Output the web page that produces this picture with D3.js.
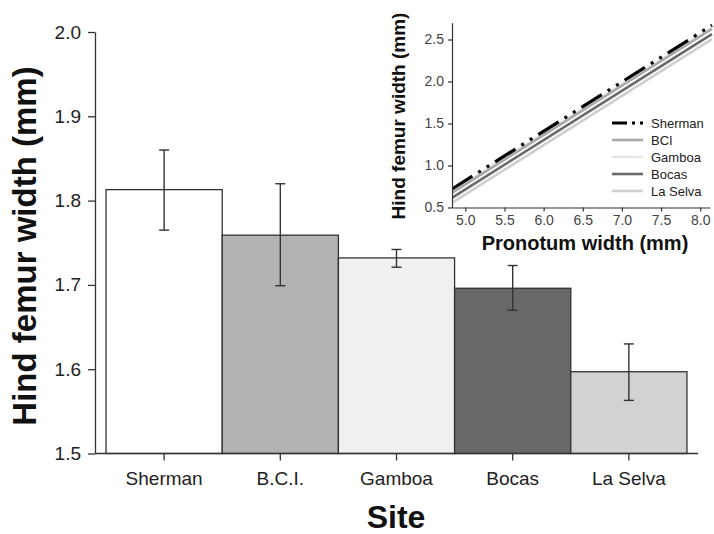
<!DOCTYPE html>
<html>
<head>
<meta charset="utf-8">
<script src="https://cdn.jsdelivr.net/npm/d3@7"></script>
<style>
  body { margin: 0; background: #fff; }
  svg { display: block; font-family: "Liberation Sans", Arial, sans-serif; }
</style>
</head>
<body>
<div id="chart"></div>
<script>
// Main bar chart data
const sites = ["Sherman", "B.C.I.", "Gamboa", "Bocas", "La Selva"];
const means = [1.813, 1.759, 1.732, 1.696, 1.597];
const errLow = [1.765, 1.699, 1.721, 1.670, 1.563];
const errHigh = [1.860, 1.820, 1.742, 1.723, 1.630];
const barFills = ["#ffffff", "#b3b3b3", "#f0f0f0", "#686868", "#d2d2d2"];
const yTicks = [1.5, 1.6, 1.7, 1.8, 1.9, 2.0];

// Inset regression lines (value at x = 4.83 and at x = 8.15)
const lineSites = ["Sherman", "BCI", "Gamboa", "Bocas", "La Selva"];
const lineX = [4.83, 8.15];
const lineStart = [0.72, 0.675, 0.695, 0.615, 0.555];
const lineEnd = [2.67, 2.625, 2.645, 2.565, 2.505];
const lineColors = ["#000000", "#a8a8a8", "#e6e6e6", "#6a6a6a", "#cfcfcf"];
const insetXTicks = [5.0, 5.5, 6.0, 6.5, 7.0, 7.5, 8.0];
const insetYTicks = [0.5, 1.0, 1.5, 2.0, 2.5];

const W = 714, H = 534;
const svg = d3.select("#chart").append("svg")
    .attr("width", W)
    .attr("height", H);

svg.append("rect").attr("width", W).attr("height", H).attr("fill", "#fff");

// ---- main chart ----
const x = d3.scaleBand()
    .domain(sites)
    .range([95, 698])
    .paddingInner(0)
    .paddingOuter(0.095);

const y = d3.scaleLinear()
    .domain([1.5, 2.0])
    .range([453.5, 32]);

const bars = svg.append("g");
bars.selectAll("rect")
    .data(sites)
    .enter().append("rect")
    .attr("x", d => x(d))
    .attr("y", (d, i) => y(means[i]))
    .attr("width", x.bandwidth())
    .attr("height", (d, i) => y(1.5) - y(means[i]))
    .attr("fill", (d, i) => barFills[i])
    .attr("stroke", "#333")
    .attr("stroke-width", 1.3);

const err = svg.append("g")
    .attr("stroke", "#333")
    .attr("stroke-width", 1.4);
sites.forEach((s, i) => {
    const cx = x(s) + x.bandwidth() / 2;
    err.append("line").attr("x1", cx).attr("x2", cx).attr("y1", y(errLow[i])).attr("y2", y(errHigh[i]));
    err.append("line").attr("x1", cx - 5).attr("x2", cx + 5).attr("y1", y(errLow[i])).attr("y2", y(errLow[i]));
    err.append("line").attr("x1", cx - 5).attr("x2", cx + 5).attr("y1", y(errHigh[i])).attr("y2", y(errHigh[i]));
});

const yAxis = svg.append("g")
    .attr("transform", "translate(95,0)")
    .call(d3.axisLeft(y).tickValues(yTicks).tickFormat(d3.format(".1f")).tickSize(7).tickPadding(7).tickSizeOuter(0));

const xAxis = svg.append("g")
    .attr("transform", "translate(0,453.5)")
    .call(d3.axisBottom(x).tickSize(7).tickPadding(11).tickSizeOuter(0));

[yAxis, xAxis].forEach(a => {
    a.select(".domain").attr("stroke", "#333").attr("stroke-width", 1.3);
    a.selectAll(".tick line").attr("stroke", "#333").attr("stroke-width", 1.3);
    a.selectAll("text").attr("font-size", 19).attr("fill", "#222")
        .attr("font-family", "Liberation Sans, Arial, sans-serif");
});
// x axis line runs full width of plot
xAxis.select(".domain").attr("d", "M95,0H698");

svg.append("text")
    .attr("transform", "translate(36,246) rotate(-90)")
    .attr("text-anchor", "middle")
    .attr("font-size", 33)
    .attr("font-weight", "bold")
    .attr("fill", "#111")
    .text("Hind femur width (mm)");

svg.append("text")
    .attr("x", 396)
    .attr("y", 528)
    .attr("text-anchor", "middle")
    .attr("font-size", 32)
    .attr("font-weight", "bold")
    .attr("fill", "#111")
    .text("Site");

// ---- inset ----
const ix = d3.scaleLinear().domain([4.83, 8.125]).range([452, 710]);
const iy = d3.scaleLinear().domain([0.5, 2.7]).range([207.5, 22.7]);

const inset = svg.append("g");

inset.append("clipPath").attr("id", "insetClip")
    .append("rect")
    .attr("x", 452).attr("y", 20)
    .attr("width", 714 - 452).attr("height", 207.5 - 20);

const lineData = lineSites.map((s, i) => ({
    site: s,
    pts: [[lineX[0], lineStart[i]], [lineX[1], lineEnd[i]]],
    color: lineColors[i]
}));

const lineGen = d3.line().x(d => ix(d[0])).y(d => iy(d[1]));

// draw light lines first, Sherman on top
const drawOrder = [2, 4, 1, 3, 0];
inset.append("g")
    .attr("clip-path", "url(#insetClip)")
    .selectAll("path")
    .data(drawOrder.map(k => lineData[k]))
    .enter().append("path")
    .attr("d", d => lineGen(d.pts))
    .attr("fill", "none")
    .attr("stroke", d => d.color)
    .attr("stroke-width", d => d.site === "Sherman" ? 3.2 : 2.6)
    .attr("stroke-dasharray", d => d.site === "Sherman" ? "24,7,3,7,3,7" : null);

const ixAxis = inset.append("g")
    .attr("transform", "translate(0,207.5)")
    .call(d3.axisBottom(ix).tickValues(insetXTicks).tickFormat(d3.format(".1f")).tickSize(4).tickPadding(4).tickSizeOuter(0));

const iyAxis = inset.append("g")
    .attr("transform", "translate(452,0)")
    .call(d3.axisLeft(iy).tickValues(insetYTicks).tickFormat(d3.format(".1f")).tickSize(4).tickPadding(4).tickSizeOuter(0));

[ixAxis, iyAxis].forEach(a => {
    a.select(".domain").attr("stroke", "#333").attr("stroke-width", 1.2);
    a.selectAll(".tick line").attr("stroke", "#333").attr("stroke-width", 1.2);
    a.selectAll("text").attr("font-size", 14).attr("fill", "#444")
        .attr("font-family", "Liberation Sans, Arial, sans-serif");
});

inset.append("text")
    .attr("transform", "translate(405,116) rotate(-90)")
    .attr("text-anchor", "middle")
    .attr("font-size", 19)
    .attr("font-weight", "bold")
    .attr("fill", "#111")
    .text("Hind femur width (mm)");

inset.append("text")
    .attr("x", 585)
    .attr("y", 250)
    .attr("text-anchor", "middle")
    .attr("font-size", 20)
    .attr("font-weight", "bold")
    .attr("fill", "#111")
    .text("Pronotum width (mm)");

// legend
const legend = inset.append("g")
    .attr("transform", "translate(612,123)");

legend.selectAll("line")
    .data(lineData)
    .enter().append("line")
    .attr("x1", 0)
    .attr("x2", 31)
    .attr("y1", (d, i) => i * 17)
    .attr("y2", (d, i) => i * 17)
    .attr("stroke", d => d.color)
    .attr("stroke-width", d => d.site === "Sherman" ? 3.2 : 2.6)
    .attr("stroke-dasharray", d => d.site === "Sherman" ? "15,5,3,5,3" : null);

legend.selectAll("text")
    .data(lineData)
    .enter().append("text")
    .attr("x", 39)
    .attr("y", (d, i) => i * 17)
    .attr("dy", "0.35em")
    .attr("font-size", 13)
    .attr("fill", "#222")
    .text(d => d.site);
</script>
</body>
</html>
